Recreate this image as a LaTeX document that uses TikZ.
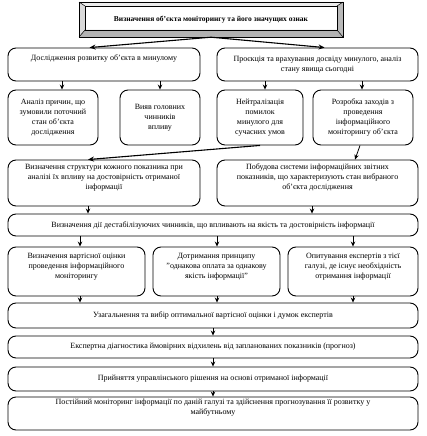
\documentclass[tikz,border=0pt]{standalone}
\usepackage{fontspec}
\setmainfont{Liberation Serif}
\usetikzlibrary{arrows.meta}
\begin{document}
\begin{tikzpicture}[x=1pt,y=-1pt,
  box/.style={draw, rounded corners=8pt, line width=0.9pt, align=center, inner sep=1pt,
    font=\fontsize{8}{10}\selectfont},
  arr/.style={-{Stealth[length=5pt,width=4.5pt]}, line width=0.8pt},
  darr/.style={-{Stealth[length=6pt,width=5pt]}, line width=1.1pt}]
\useasboundingbox[fill=white] (0,0) rectangle (427,436);

% bevelled title box
\fill[gray!15] (79,2) -- (343,2) -- (337,6) -- (85,6) -- cycle;
\fill[gray!30] (79,2) -- (85,6) -- (85,30) -- (79,37) -- cycle;
\fill[gray!55] (343,2) -- (343,37) -- (337,30) -- (337,6) -- cycle;
\fill[gray!60] (79,37) -- (343,37) -- (337,30) -- (85,30) -- cycle;
\draw[line width=0.9pt] (79,2) rectangle (343,37);
\draw[line width=0.6pt] (85,6) rectangle (337,30);
\draw[line width=0.5pt] (79,2) -- (85,6) (343,2) -- (337,6) (79,37) -- (85,30) (343,37) -- (337,30);
\node[font=\fontsize{7.5}{9.6}\selectfont\bfseries, inner sep=0pt, minimum width=264pt, minimum height=35pt] (top) at (211,19.5) {Визначення об’єкта моніторингу та його значущих ознак};

% row 2
\node[box, minimum width=192pt, minimum height=33pt] (L) at (104,64.5) {Дослідження розвитку об’єкта в минулому\\ \strut};
\node[box, minimum width=201pt, minimum height=33pt] (R) at (317.5,64.5) {Проєкція та врахування досвіду минулого, аналіз\\стану явища сьогодні};

% row 3
\node[box, minimum width=90pt, minimum height=55pt] (A) at (53,117.5) {Аналіз причин, що\\зумовили поточний\\стан об’єкта\\дослідження};
\node[box, minimum width=80pt, minimum height=55pt] (B) at (160,117.5) {Вияв головних\\чинників\\впливу};
\node[box, minimum width=86pt, minimum height=55pt] (C) at (260,117.5) {Нейтралізація\\помилок\\минулого для\\сучасних умов};
\node[box, minimum width=100pt, minimum height=55pt] (D) at (363,117.5) {Розробка заходів з\\проведення\\інформаційного\\моніторингу об’єкта};

% row 4
\node[box, minimum width=192pt, minimum height=46pt] (L4) at (104,183) {Визначення структури кожного показника при\\аналізі їх впливу на достовірність отриманої\\інформації\\[3pt]};
\node[box, minimum width=201pt, minimum height=46pt] (R4) at (317.5,183) {Побудова системи інформаційних звітних\\показників, що характеризують стан вибраного\\об’єкта дослідження\\[3pt]};

% row 5
\node[box, minimum width=410pt, minimum height=22pt] (E) at (213,225) {Визначення дії дестабілізуючих чинників, що впливають на якість та достовірність інформації};

% row 6
\node[box, minimum width=137pt, minimum height=49pt] (F1) at (76.5,271.5) {Визначення вартісної оцінки\\проведення інформаційного\\моніторингу\\[2pt]};
\node[box, minimum width=127pt, minimum height=49pt] (F2) at (216.5,271.5) {Дотримання принципу\\"однакова оплата за однакову\\якість інформації"\\[2pt]};
\node[box, minimum width=130pt, minimum height=49pt] (F3) at (353,271.5) {Опитування експертів з тієї\\галузі, де існує необхідність\\отримання інформації\\[2pt]};

% rows 7-10
\node[box, minimum width=410pt, minimum height=25pt] (G) at (213,315.5) {Узагальнення та вибір оптимальної вартісної оцінки і думок експертів};
\node[box, minimum width=410pt, minimum height=22pt] (H) at (213,347) {Експертна діагностика ймовірних відхилень від запланованих показників (прогноз)};
\node[box, minimum width=410pt, minimum height=24pt] (I) at (213,379) {Прийняття управлінського рішення на основі отриманої інформації};
\node[box, minimum width=410pt, minimum height=33pt] (J) at (213,413.5) {Постійний моніторинг інформації по даній галузі та здійснення прогнозування її розвитку у\\майбутньому\\[3pt]};

% connectors
\draw[darr] (top.south) -- ([xshift=82pt]L.north west);
\draw[darr] (top.south) -- ([xshift=108pt]R.north west);

\draw[arr] ([xshift=-42pt]L.south) -- ([xshift=9pt]A.north);
\draw[arr] ([xshift=56pt]L.south) -- (B.north);
\draw[arr] ([xshift=-52.5pt]R.south) -- ([xshift=5pt]C.north);
\draw[arr] ([xshift=44.5pt]R.south) -- ([xshift=-1pt]D.north);

\draw[darr] (C.south) -- ([xshift=-16pt]L4.north);
\draw[arr] ([xshift=-3pt]D.south) -- ([xshift=37.5pt]R4.north);

\draw[arr] ([xshift=-16pt]L4.south) -- ([xshift=-125pt]E.north);
\draw[arr] ([xshift=-5.5pt]R4.south) -- ([xshift=99pt]E.north);

\draw[arr] ([xshift=-133pt]E.south) -- ([xshift=3.5pt]F1.north);
\draw[arr] ([xshift=4pt]E.south) -- ([xshift=0.5pt]F2.north);
\draw[arr] ([xshift=140pt]E.south) -- (F3.north);

\draw[arr] ([xshift=3.5pt]F1.south) -- ([xshift=-133pt]G.north);
\draw[arr] ([xshift=0.5pt]F2.south) -- ([xshift=4pt]G.north);
\draw[arr] (F3.south) -- ([xshift=140pt]G.north);

\draw[arr] (G.south) -- (H.north);
\draw[arr] (H.south) -- (I.north);
\draw[arr] (I.south) -- (J.north);
\end{tikzpicture}
\end{document}
